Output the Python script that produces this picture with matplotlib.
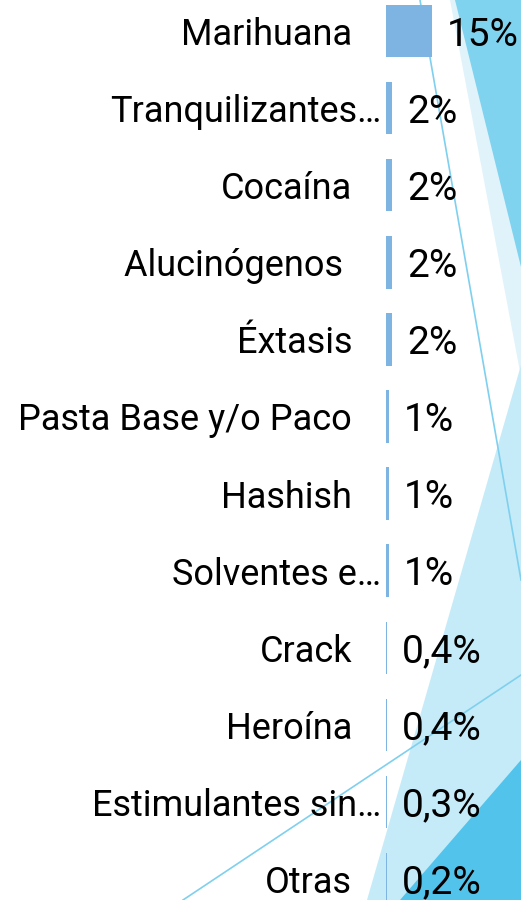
import matplotlib.pyplot as plt
from matplotlib.patches import Polygon
from matplotlib.lines import Line2D

categories = ['Marihuana', 'Tranquilizantes…', 'Cocaína', 'Alucinógenos ', 'Éxtasis',
              'Pasta Base y/o Paco', 'Hashish', 'Solventes e…', 'Crack', 'Heroína',
              'Estimulantes sin…', 'Otras']
values = [15, 2, 2, 2, 2, 1, 1, 1, 0.4, 0.4, 0.3, 0.2]
labels = ['15%', '2%', '2%', '2%', '2%', '1%', '1%', '1%', '0,4%', '0,4%', '0,3%', '0,2%']

W, H = 521, 900
plt.rcParams['font.family'] = ['Roboto', 'DejaVu Sans']
fig = plt.figure(figsize=(W / 100, H / 100), dpi=100)
fig.patch.set_facecolor('white')


def px(pts):
    return [(x / W, 1 - y / H) for x, y in pts]


# decorative background shapes
shapes = [
    ([(450, 0), (521, 0), (521, 377)], '#E0F3FA'),
    ([(455, 0), (521, 0), (521, 267)], '#7FD3EF'),
    ([(521, 365), (367, 900), (521, 900)], '#C6EBF8'),
    ([(400, 900), (521, 760), (521, 900)], '#52C3EB'),
]
for pts, col in shapes:
    fig.patches.append(Polygon(px(pts), closed=True, transform=fig.transFigure,
                               facecolor=col, edgecolor='none', zorder=-5))
for (x0, y0), (x1, y1) in [((420, 0), (521, 580)), ((183, 900), (521, 675))]:
    fig.lines.append(Line2D([x0 / W, x1 / W], [1 - y0 / H, 1 - y1 / H],
                            transform=fig.transFigure, color='#7FD0EE', lw=1.2, zorder=-4))

row = 77.1
top = 31 - row / 2
ax = fig.add_axes([386 / W, (H - (top + 12 * row)) / H, 135 / W, 12 * row / H])
ax.set_facecolor('none')
ypos = list(range(len(categories)))
ax.barh(ypos, values, height=0.68, color='#7EB4E2')
ax.set_ylim(11.5, -0.5)
ax.set_xlim(0, 44)
ax.set_xticks([])
ax.set_yticks([])
for s in ax.spines.values():
    s.set_visible(False)

# category labels (truncated ones sit closer to the bars)
for y, cat in zip(ypos, categories):
    off = -5 if cat.endswith('…') else -34
    ax.annotate(cat, (0, y), xytext=(off, 0), textcoords='offset pixels',
                ha='right', va='center_baseline', fontsize=26, color='black',
                annotation_clip=False)

for y, v, lab in zip(ypos, values, labels):
    ax.annotate(lab, (v, y), xytext=(15, 0), textcoords='offset pixels',
                ha='left', va='center_baseline', fontsize=28, color='black',
                annotation_clip=False)

fig.savefig('out.png', dpi=100)
